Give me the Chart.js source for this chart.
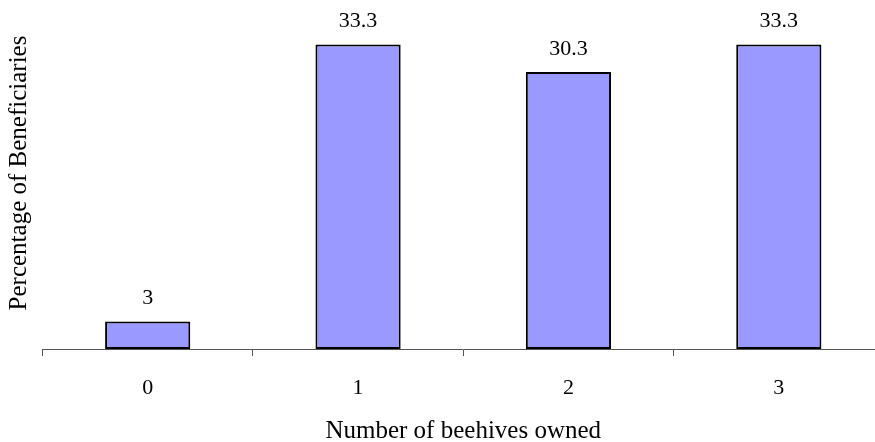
<!DOCTYPE html>
<html>
<head>
<meta charset="utf-8">
<script src="https://cdn.jsdelivr.net/npm/chart.js@4/dist/chart.umd.min.js"></script>
<style>
  html, body { margin: 0; padding: 0; background: #fff; overflow: hidden; }
  #wrap { width: 884px; height: 442px; }
</style>
</head>
<body>
<div id="wrap"><canvas id="barChart" width="884" height="442"></canvas></div>
<script>
// categories and values
var beehives = ['0', '1', '2', '3'];
var percentBeneficiaries = [3, 33.3, 30.3, 33.3];
var valueLabels = ['3', '33.3', '30.3', '33.3'];
var xTitle = 'Number of beehives owned';
var yTitle = 'Percentage of Beneficiaries';

var serif = "'Liberation Serif', 'Times New Roman', serif";

// numbers above the bars + the vertical axis title
var barLabels = {
    id: 'barLabels',
    afterDatasetsDraw: function(chart) {
        var ctx = chart.ctx;
        var area = chart.chartArea;
        var meta = chart.getDatasetMeta(0);
        ctx.save();
        ctx.fillStyle = '#000';
        ctx.font = '22px ' + serif;
        ctx.textAlign = 'center';
        ctx.textBaseline = 'middle';
        meta.data.forEach(function(bar, i) {
            ctx.fillText(valueLabels[i], bar.x, bar.y - 23);
        });
        // y title, Excel puts it a bit above the plot middle
        ctx.font = '25px ' + serif;
        ctx.translate(area.left - 23, (area.top + area.bottom) / 2 - 16);
        ctx.rotate(-Math.PI / 2);
        ctx.fillText(yTitle, 0, 0);
        ctx.restore();
    }
};

var bar = new Chart(document.getElementById('barChart'), {
    type: 'bar',
    data: {
        labels: beehives,
        datasets: [{
            data: percentBeneficiaries,
            backgroundColor: '#9999FF',
            borderColor: '#000',
            borderWidth: 2,
            borderSkipped: false,
            categoryPercentage: 1,
            barPercentage: 0.405
        }]
    },
    options: {
        responsive: false,
        animation: false,
        layout: {
            padding: { left: 42.5, right: 0, top: 29, bottom: -4 }
        },
        plugins: {
            legend: { display: false },
            tooltip: { enabled: false }
        },
        scales: {
            x: {
                grid: {
                    display: true,
                    offset: true,
                    drawOnChartArea: false,
                    drawTicks: true,
                    tickLength: 7,
                    color: '#555'
                },
                border: { display: true, color: '#555', width: 1 },
                ticks: {
                    color: '#000',
                    padding: 19.5,
                    font: { family: serif, size: 22 }
                },
                title: {
                    display: true,
                    text: xTitle,
                    color: '#000',
                    padding: { top: -5.4, bottom: 0 },
                    font: { family: serif, size: 25 }
                }
            },
            y: {
                display: false,
                min: 0,
                max: 35
            }
        }
    },
    plugins: [barLabels]
});
</script>
</body>
</html>
